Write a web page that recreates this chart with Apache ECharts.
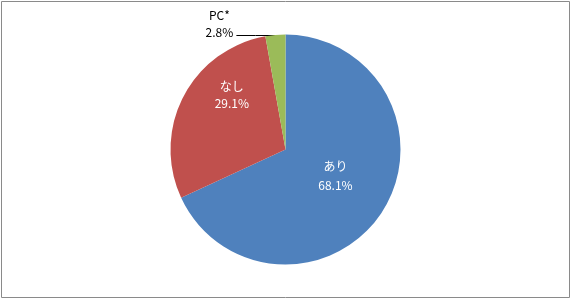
<!DOCTYPE html>
<html>
<head>
<meta charset="utf-8">
<script src="https://cdn.jsdelivr.net/npm/echarts@6/dist/echarts.min.js"></script>
<style>
html,body{margin:0;padding:0;background:#fff;}
#c{width:571px;height:299px;}
</style>
</head>
<body>
<div id="c"></div>
<script>
const categories = ['あり', 'なし', 'PC*'];
const values = [68.1, 29.1, 2.8];
const colors = ['#4F81BD', '#C0504D', '#9BBB59'];

const font = '"Noto Sans CJK JP", "Noto Sans", sans-serif';
const labelStyles = [
  {position: 'inside', color: '#fff', lineHeight: 19, offset: [-1, -6]},
  {position: 'inside', color: '#fff', lineHeight: 17, offset: [0, -27]},
  {position: 'outside', color: '#000', lineHeight: 17}
];

const data = categories.map((name, i) => ({
  name: name,
  value: values[i],
  itemStyle: {color: colors[i]},
  label: Object.assign({show: true, fontFamily: font, fontSize: 12}, labelStyles[i]),
  labelLine: i === 2 ? {show: true, length: 1, length2: 38, lineStyle: {color: '#000', width: 1}} : {show: false}
}));

const chart = echarts.init(document.getElementById('c'), null, {renderer: 'canvas'});
chart.setOption({
  animation: false,
  graphic: [{
    type: 'rect',
    shape: {x: 1.5, y: 1.5, width: 568, height: 296},
    style: {fill: 'none', stroke: '#8a8a8a', lineWidth: 1},
    silent: true
  }],
  series: [{
    type: 'pie',
    center: [285.5, 149.5],
    radius: [0, 115],
    startAngle: 90,
    clockwise: true,
    avoidLabelOverlap: false,
    itemStyle: {borderColor: '#fff', borderWidth: 0},
    label: {
      formatter: p => p.name + '\n' + p.value.toFixed(1) + '%'
    },
    labelLayout: function (params) {
      if (params.dataIndex !== 2 || !params.labelLinePoints) return {};
      const p0 = params.labelLinePoints[0];
      const x0 = p0[0], y0 = Math.round(p0[1]) + 0.5;
      return {
        x: x0 - 56,
        y: y0 + 5,
        align: 'center',
        verticalAlign: 'bottom',
        labelLinePoints: [[x0, y0], [x0 - 20, y0], [x0 - 39, y0]]
      };
    },
    data: data
  }]
});
</script>
</body>
</html>
